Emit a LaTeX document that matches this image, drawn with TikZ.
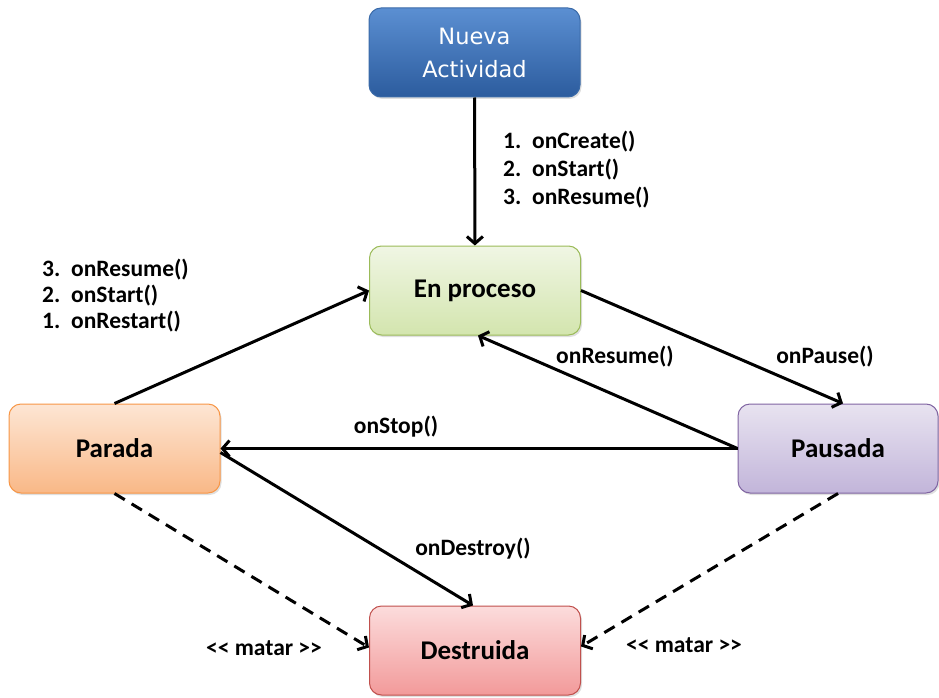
\documentclass[tikz,border=0pt]{standalone}
\usepackage{fontspec}
\setmainfont{Carlito}
\newfontfamily\dejavu{DejaVu Sans}
\usetikzlibrary{arrows.meta,shadows}
\definecolor{bluetop}{HTML}{5B8FD2}
\definecolor{bluebot}{HTML}{2C5C9E}
\definecolor{blueln}{HTML}{3A6AA8}
\definecolor{greentop}{HTML}{F0F6E4}
\definecolor{greenbot}{HTML}{D3E5AE}
\definecolor{greenln}{HTML}{9BBB59}
\definecolor{orangetop}{HTML}{FDE6D4}
\definecolor{orangebot}{HTML}{F9B887}
\definecolor{orangeln}{HTML}{F79646}
\definecolor{purpletop}{HTML}{E8E3F0}
\definecolor{purplebot}{HTML}{C2B5DA}
\definecolor{purpleln}{HTML}{8064A2}
\definecolor{redtop}{HTML}{FCDCDC}
\definecolor{redbot}{HTML}{F29A9A}
\definecolor{redln}{HTML}{C0504D}
\tikzset{
  state/.style={rounded corners=12pt, minimum width=211pt, minimum height=89pt,
    line width=1pt, font=\fontsize{27}{30}\selectfont\bfseries,
    drop shadow={shadow xshift=1.5pt, shadow yshift=-2pt, opacity=0.25}},
  arr/.style={line width=3pt, -{Straight Barb[length=7pt,width=16pt]}},
  darr/.style={arr, dash pattern=on 12pt off 8pt},
  lbl/.style={font=\fontsize{23.5}{28}\selectfont\bfseries, inner sep=0pt}
}
\newcommand{\numl}[1]{\makebox[29pt][l]{#1}}
\begin{document}
\begin{tikzpicture}[x=1pt,y=-1pt]
\useasboundingbox (0,0) rectangle (939,698);
\node[state, draw=blueln, top color=bluetop, bottom color=bluebot, text=white,
  font=\dejavu\fontsize{22.5}{33}\selectfont, align=center] (nueva) at (474.5,52.5) {Nueva\\Actividad};
\node[state, draw=greenln, top color=greentop, bottom color=greenbot] (enproceso) at (475,290.5) {En proceso};
\node[state, draw=orangeln, top color=orangetop, bottom color=orangebot] (parada) at (114.5,448.5) {Parada};
\node[state, draw=purpleln, top color=purpletop, bottom color=purplebot, minimum width=200pt] (pausada) at (838,448.5) {Pausada};
\node[state, draw=redln, top color=redtop, bottom color=redbot] (destruida) at (475,650.5) {Destruida};

\draw[arr] (nueva) -- (enproceso);
\draw[arr] (parada.north) -- (enproceso.west);
\draw[arr] (enproceso.east) -- ([xshift=5pt]pausada.north);
\draw[arr] (pausada.west) -- ([xshift=3pt]enproceso.south);
\draw[arr] (pausada.west) -- (parada.east);
\draw[arr] ([yshift=-4pt]parada.east) -- ([xshift=-2pt]destruida.north);
\draw[darr] (parada.south) -- ([yshift=3pt]destruida.west);
\draw[darr] (pausada.south) -- ([yshift=4pt]destruida.east);

\node[lbl, anchor=west, align=left] (l1) at (503,170) {\numl{1.}onCreate()\\\numl{2.}onStart()\\\numl{3.}onResume()};
\node[lbl, anchor=west, align=left, font=\fontsize{23.5}{26}\selectfont\bfseries] (l2) at (42,296) {\numl{3.}onResume()\\\numl{2.}onStart()\\\numl{1.}onRestart()};
\node[lbl] (l3) at (615,357) {onResume()};
\node[lbl] (l4) at (825,357) {onPause()};
\node[lbl] (l5) at (396,427) {onStop()};
\node[lbl] (l6) at (473,549) {onDestroy()};
\node[lbl] (l7) at (264,648) {<{}< matar >{}>};
\node[lbl] (l8) at (684,645) {<{}< matar >{}>};
\end{tikzpicture}
\end{document}
